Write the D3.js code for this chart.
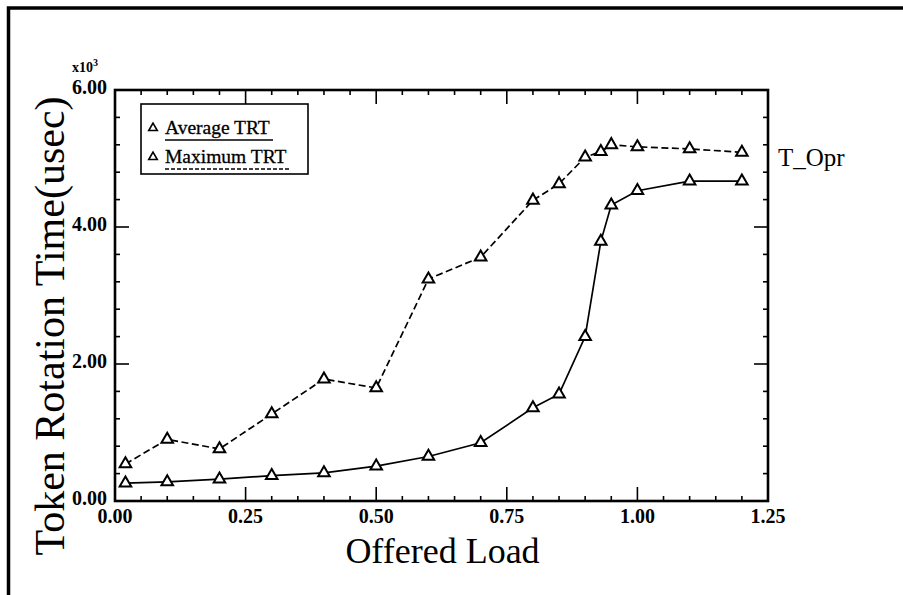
<!DOCTYPE html>
<html>
<head>
<meta charset="utf-8">
<script src="https://cdn.jsdelivr.net/npm/d3@7"></script>
<style>
  body { margin: 0; background: #fff; }
  svg { display: block; font-family: "Liberation Serif", "Times New Roman", serif; }
</style>
</head>
<body>
<svg id="chart" width="903" height="595"></svg>
<script>
var loads = [0.02, 0.1, 0.2, 0.3, 0.4, 0.5, 0.6, 0.7, 0.8, 0.85, 0.9, 0.93, 0.95, 1.0, 1.1, 1.2];
var avgTRT = [0.26, 0.28, 0.32, 0.37, 0.41, 0.51, 0.65, 0.85, 1.36, 1.56, 2.40, 3.79, 4.32, 4.53, 4.67, 4.67];
var maxTRT = [0.54, 0.90, 0.76, 1.27, 1.78, 1.65, 3.24, 3.56, 4.39, 4.63, 5.02, 5.10, 5.20, 5.17, 5.14, 5.09];
var xTicks = [0, 0.25, 0.5, 0.75, 1.0, 1.25];
var yTicks = [0, 2, 4, 6];
var seriesNames = ['Average TRT', 'Maximum TRT'];

var svg = d3.select('#chart');
var plotL = 115, plotR = 768, plotT = 90, plotB = 501;

var x = d3.scaleLinear().domain([0, 1.25]).range([plotL, plotR]);
var y = d3.scaleLinear().domain([0, 6]).range([plotB, plotT]);

// page frame (top and left edges only)
svg.append('path')
  .attr('d', 'M8.5,595 L8.5,8 L903,8')
  .style('fill', 'none')
  .style('stroke', '#000')
  .style('stroke-width', 3.5);

var g = svg.append('g');

// minor + major ticks, pointing inward on all four sides
var xMinor = d3.range(0, 1.2501, 0.05);
var yMinor = d3.range(0, 6.001, 0.4);
function isMajor(v, step) { return Math.abs(v / step - Math.round(v / step)) < 1e-6; }

xMinor.forEach(function(v) {
  var len = isMajor(v, 0.25) ? 14 : 5;
  g.append('line').attr('x1', x(v)).attr('x2', x(v)).attr('y1', plotB).attr('y2', plotB - len);
  g.append('line').attr('x1', x(v)).attr('x2', x(v)).attr('y1', plotT).attr('y2', plotT + len);
});
yMinor.forEach(function(v) {
  var len = isMajor(v, 2) ? 14 : 5;
  g.append('line').attr('x1', plotL).attr('x2', plotL + len).attr('y1', y(v)).attr('y2', y(v));
  g.append('line').attr('x1', plotR).attr('x2', plotR - len).attr('y1', y(v)).attr('y2', y(v));
});
g.selectAll('line').style('stroke', '#000').style('stroke-width', 1.6);

g.append('rect')
  .attr('x', plotL).attr('y', plotT)
  .attr('width', plotR - plotL).attr('height', plotB - plotT)
  .style('fill', 'none').style('stroke', '#000').style('stroke-width', 2.6);

// tick labels
svg.selectAll('text.xt').data(xTicks).enter().append('text')
  .attr('class', 'xt')
  .attr('x', function(d) { return x(d); })
  .attr('y', plotB + 22)
  .attr('text-anchor', 'middle')
  .style('font-size', '20px').style('font-weight', 'bold')
  .text(function(d) { return d3.format('.2f')(d); });

svg.selectAll('text.yt').data(yTicks).enter().append('text')
  .attr('class', 'yt')
  .attr('x', plotL - 8)
  .attr('y', function(d) { return y(d) + 4; })
  .attr('text-anchor', 'end')
  .style('font-size', '20px').style('font-weight', 'bold')
  .text(function(d) { return d3.format('.2f')(d); });

var exp = svg.append('text')
  .attr('x', 72).attr('y', 72)
  .style('font-size', '14px').style('font-weight', 'bold')
  .text('x10');
exp.append('tspan').attr('dy', -6).style('font-size', '10px').text('3');

// axis titles
svg.append('text')
  .attr('x', (plotL + plotR) / 2 + 1).attr('y', 563)
  .attr('text-anchor', 'middle')
  .style('font-size', '36px')
  .text('Offered Load');

svg.append('text')
  .attr('transform', 'translate(64,' + 326 + ') rotate(-90)')
  .attr('text-anchor', 'middle')
  .style('font-size', '42px')
  .text('Token Rotation Time(usec)');

svg.append('text')
  .attr('x', 778).attr('y', 166)
  .style('font-size', '25px')
  .text('T_Opr');

// series
var line = d3.line()
  .x(function(d) { return x(d[0]); })
  .y(function(d) { return y(d[1]); });

var series = [
  { name: seriesNames[0], values: d3.zip(loads, avgTRT), dash: null },
  { name: seriesNames[1], values: d3.zip(loads, maxTRT), dash: '7,3.5' }
];

var tri = d3.symbol().type(d3.symbolTriangle).size(58);

series.forEach(function(s) {
  svg.append('path')
    .attr('d', line(s.values))
    .style('fill', 'none')
    .style('stroke', '#000')
    .style('stroke-width', 1.7)
    .style('stroke-dasharray', s.dash);

  svg.selectAll(null).data(s.values).enter().append('path')
    .attr('d', tri)
    .attr('transform', function(d) { return 'translate(' + x(d[0]) + ',' + y(d[1]) + ')'; })
    .style('fill', '#fff')
    .style('stroke', '#000')
    .style('stroke-width', 2);
});

// legend
var lg = svg.append('g');
lg.append('rect')
  .attr('x', 141).attr('y', 104).attr('width', 167).attr('height', 70)
  .style('fill', '#fff').style('stroke', '#000').style('stroke-width', 1.6);

series.forEach(function(s, i) {
  var by = 134 + i * 29;
  lg.append('path')
    .attr('d', d3.symbol().type(d3.symbolTriangle).size(32))
    .attr('transform', 'translate(153,' + (by - 6) + ')')
    .style('fill', '#fff').style('stroke', '#000').style('stroke-width', 1.6);
  lg.append('text')
    .attr('x', 165).attr('y', by)
    .style('font-size', '19.5px')
    .style('stroke', '#000').style('stroke-width', 0.3)
    .text(s.name);
  lg.append('line')
    .attr('x1', 165).attr('x2', i === 0 ? 273 : 290)
    .attr('y1', by + 6).attr('y2', by + 6)
    .style('stroke', '#000').style('stroke-width', 1.4)
    .style('stroke-dasharray', s.dash === null ? null : '4,2');
});
</script>
</body>
</html>
